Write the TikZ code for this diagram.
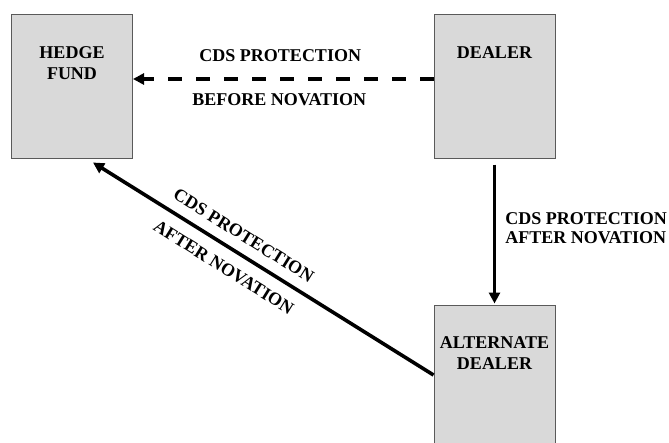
\documentclass[tikz,border=0pt]{standalone}
\usepackage{fontspec}
\setmainfont{Liberation Serif}
\usetikzlibrary{arrows.meta,calc}
\definecolor{boxfill}{RGB}{217,217,217}
\definecolor{boxline}{RGB}{90,90,90}
\begin{document}
\begin{tikzpicture}[x=1pt,y=-1pt,
  party/.style={draw=boxline,line width=1pt,fill=boxfill,inner sep=0pt,minimum width=121pt,minimum height=144pt},
  boxtext/.style={font=\fontsize{18}{21}\selectfont\bfseries,align=center,anchor=north,inner sep=0pt},
  lbl/.style={font=\fontsize{18}{19}\selectfont\bfseries,inner sep=0pt},
  flow/.style={line width=3.6pt,-{Triangle[length=11pt,width=11pt]}},
  dashflow/.style={flow,dash pattern=on 14pt off 14pt}]
\useasboundingbox (0,0) rectangle (669,442);
\clip (0,0) rectangle (669,442);
\node[party] (hf) at (72,86) {};
\node[party] (dl) at (494.5,86) {};
\node[party] (ad) at (494.5,377) {};
\node[boxtext] (hft) at ($(hf.north)+(0,33)$) {HEDGE\\FUND};
\node[boxtext] (dlt) at ($(dl.north)+(0,33)$) {DEALER};
\node[boxtext] (adt) at ($(ad.north)+(0,32)$) {ALTERNATE\\DEALER};
\draw[dashflow] ([yshift=7pt]dl.west) -- ([yshift=7pt]hf.east)
  node[lbl,midway,above=16pt,xshift=-3pt] (l1) {CDS PROTECTION}
  node[lbl,midway,below=13pt,xshift=-4pt] (l2) {BEFORE NOVATION};
\draw[flow,shorten <=6pt,shorten >=1pt] (dl.south) -- (ad.north)
  node[lbl,midway,right=9pt,yshift=3pt,align=left] (l3) {CDS PROTECTION\\AFTER NOVATION};
\coordinate (tip) at ($(hf.south)+(21,4)$);
\draw[flow] ($(ad.west)+(0,-2)$) -- (tip)
  node[lbl,pos=0.585,sloped,above=10pt] (l4) {CDS PROTECTION}
  node[lbl,pos=0.585,sloped,below=12pt] (l5) {AFTER NOVATION};
\end{tikzpicture}
\end{document}
